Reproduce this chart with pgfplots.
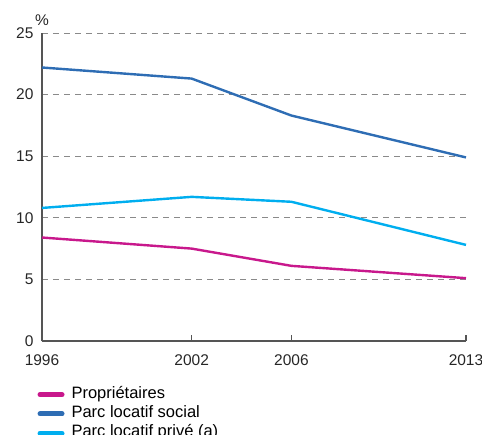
\documentclass[border=0pt]{standalone}
\usepackage{pgfplots}
\pgfplotsset{compat=1.18}
\usepackage{fontspec}
\setmainfont{Liberation Sans}
\definecolor{cprop}{HTML}{C8188C}
\definecolor{csoc}{HTML}{2E6DB4}
\definecolor{cpriv}{HTML}{00AEEF}
\definecolor{caxis}{HTML}{555555}
\definecolor{cgrid}{HTML}{8A8A8A}
\begin{document}
\begin{tikzpicture}
\useasboundingbox (0pt,0pt) rectangle (482pt,434pt);
\begin{axis}[
  at={(42pt,93pt)}, anchor=origin,
  scale only axis, width=424pt, height=308pt,
  xmin=1996, xmax=2013, ymin=0, ymax=25,
  axis x line*=bottom, axis y line*=left,
  axis line style={caxis, line width=1.2pt},
  xtick={1996,2002,2006,2013},
  xticklabels={1996,2002,2006,2013},
  ytick={0,5,10,15,20,25},
  tick style={caxis, line width=1.2pt},
  xtick align=inside, major tick length=6pt,
  ytick style={draw=none},
  ymajorgrids, grid style={cgrid, line width=0.9pt, dash pattern=on 6pt off 5pt},
  tick label style={font=\fontsize{15.5}{17}\selectfont, text=black!85},
  /pgf/number format/assume math mode=true,
  xticklabel style={yshift=-10pt},
  yticklabel style={xshift=-5pt},
  clip=false,
  legend style={at={(-0.011,-0.145)}, anchor=north west, draw=none, fill=none,
    font=\fontsize{16.5}{18}\selectfont, row sep=1.8pt, column sep=6pt, inner sep=0pt,
    nodes={inner sep=1pt, text height=11.5pt, text depth=4pt}},
  legend cell align=left,
  legend image code/.code={\draw[#1, line width=5pt, line cap=round] (0pt,0pt) -- (22pt,0pt);},
]
\addplot[cprop, line width=2.4pt] coordinates {(1996,8.4) (2002,7.5) (2006,6.1) (2013,5.1)};
\addlegendentry{Propriétaires}
\addplot[csoc, line width=2.4pt] coordinates {(1996,22.2) (2002,21.3) (2006,18.3) (2013,14.9)};
\addlegendentry{Parc locatif social}
\addplot[cpriv, line width=2.4pt] coordinates {(1996,10.8) (2002,11.7) (2006,11.3) (2013,7.8)};
\addlegendentry{Parc locatif privé (a)}
\node[anchor=south, font=\fontsize{15.5}{17}\selectfont, text=black!85] at (rel axis cs:0,1) [yshift=4pt] {\%};
\end{axis}
\end{tikzpicture}
\end{document}
